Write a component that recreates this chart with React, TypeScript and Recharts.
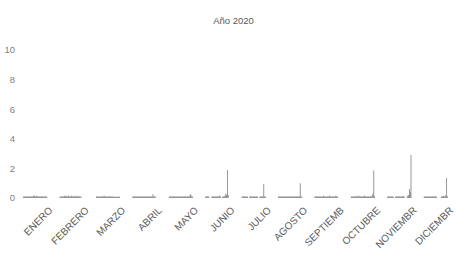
import React from "react";
import { BarChart, Bar, XAxis, YAxis } from "recharts";

const months = ["ENERO", "FEBRERO", "MARZO", "ABRIL", "MAYO", "JUNIO", "JULIO", "AGOSTO", "SEPTIEMB", "OCTUBRE", "NOVIEMBR", "DICIEMBR"];
const yTicks = [0, 2, 4, 6, 8, 10];

const enero = [0.1, 0.1, 0.1, 0.1, 0.1, 0.1, 0.1, 0.1, 0.1, 0.1, 0.1, 0.1, 0.1, 0.15, 0.15, 0.1, 0.1, 0.15, 0.1, 0.1, 0.1, 0.1, 0.1, 0.1, 0.1, 0.1, 0.1, 0.1, 0.1, 0.1, 0.1];
const febrero = [0.1, 0.1, 0.1, 0.1, 0.1, 0.1, 0.15, 0.1, 0.15, 0.1, 0.1, 0.15, 0.1, 0.1, 0.1, 0.15, 0.1, 0.1, 0.15, 0.1, 0.1, 0.1, 0.15, 0.1, 0.1, 0.1, 0.1, 0.1, 0, 0, 0];
const marzo = [0.1, 0.1, 0.1, 0.1, 0.1, 0.1, 0.1, 0.1, 0.1, 0.1, 0.15, 0.1, 0.1, 0.1, 0.1, 0.1, 0.1, 0.1, 0.1, 0.1, 0.1, 0.1, 0.08, 0.08, 0.08, 0.08, 0.08, 0.08, 0.08, 0.08, 0.08];
const abril = [0.1, 0.1, 0.1, 0.1, 0.1, 0.1, 0.1, 0.1, 0.1, 0.1, 0.1, 0.1, 0.1, 0.1, 0.1, 0.1, 0.1, 0.1, 0.1, 0.1, 0.1, 0.1, 0.1, 0.1, 0.1, 0.1, 0.25, 0.1, 0.1, 0.1, 0];
const mayo = [0.1, 0.1, 0.1, 0.1, 0.1, 0.1, 0.1, 0.1, 0.1, 0.1, 0.1, 0.1, 0.1, 0.1, 0.1, 0.1, 0.1, 0.1, 0.1, 0.1, 0.1, 0.1, 0.1, 0.1, 0.1, 0.1, 0.1, 0.25, 0.2, 0.1, 0.1];
const junio = [0.1, 0.1, 0.1, 0.1, 0.1, 0, 0, 0, 0.1, 0.1, 0.1, 0.1, 0.1, 0.1, 0.1, 0.1, 0.1, 0.1, 0.15, 0.1, 0, 0, 0.1, 0.1, 0.1, 0.15, 0.3, 0.2, 1.9, 0.2, 0];
const julio = [0.1, 0.1, 0.1, 0.1, 0.1, 0.1, 0.1, 0.1, 0, 0, 0.1, 0.1, 0.1, 0.1, 0.1, 0.1, 0.1, 0.1, 0.1, 0.1, 0.1, 0, 0, 0.1, 0.1, 0.1, 0.1, 0.1, 0.95, 0.1, 0.1];
const agosto = [0.1, 0.1, 0.1, 0.1, 0.1, 0.1, 0.1, 0.1, 0.1, 0.1, 0.1, 0.1, 0.1, 0.1, 0.1, 0.1, 0.1, 0.1, 0.1, 0.1, 0.1, 0.1, 0.1, 0.1, 0.1, 0.1, 0.1, 0.1, 1.0, 0.1, 0.1];
const septiembre = [0.1, 0.1, 0.1, 0.1, 0.1, 0.1, 0.1, 0.1, 0.1, 0.1, 0.1, 0.15, 0.1, 0.1, 0.1, 0.1, 0.1, 0.1, 0.1, 0.15, 0.1, 0.1, 0.1, 0.1, 0.1, 0.1, 0.1, 0.15, 0.1, 0.1, 0];
const octubre = [0.1, 0.1, 0.1, 0.1, 0.1, 0.1, 0.1, 0.15, 0.1, 0.1, 0.15, 0.1, 0.1, 0.1, 0.1, 0.1, 0.1, 0.15, 0.1, 0.1, 0.1, 0.1, 0.1, 0.1, 0.1, 0.1, 0.1, 0.2, 0.3, 1.85, 0.1];
const noviembre = [0.1, 0.1, 0.1, 0.1, 0.1, 0.1, 0.1, 0.1, 0, 0, 0.1, 0.1, 0.1, 0.1, 0.1, 0.1, 0.1, 0.1, 0.1, 0.1, 0.15, 0.1, 0, 0, 0, 0.1, 0.15, 0.2, 0.6, 0.4, 2.9];
const diciembre = [0.1, 0.1, 0.1, 0.1, 0.1, 0.1, 0.1, 0.1, 0.1, 0.1, 0.1, 0.1, 0.1, 0.1, 0.1, 0.1, 0.1, 0, 0, 0, 0, 0, 0.1, 0.1, 0.1, 0.15, 0.1, 0.1, 0.2, 1.35, 0.1];

const monthValues = [enero, febrero, marzo, abril, mayo, junio, julio, agosto, septiembre, octubre, noviembre, diciembre];
const days = enero.map((_, i) => `d${i + 1}`);

const data = months.map((m, mi) => {
  const row: Record<string, any> = { month: m };
  days.forEach((d, di) => {
    row[d] = monthValues[mi][di];
  });
  return row;
});

const MonthTick = (props: any) => {
  const { x, y, payload } = props;
  const ax = x + 18;
  const ay = y + 13;
  return (
    <text
      x={ax}
      y={ay}
      textAnchor="end"
      fill="#595959"
      fontSize={10}
      fontFamily="'Liberation Sans', Arial, sans-serif"
      transform={`rotate(-45, ${ax}, ${ay})`}
    >
      {payload.value}
    </text>
  );
};

export default function App() {
  return (
    <div style={{ position: "absolute", left: 0, top: 0, width: 467, height: 268, background: "#fff" }}>
      <div
        style={{
          position: "absolute",
          left: 0,
          top: 15,
          width: 467,
          textAlign: "center",
          fontFamily: "'Liberation Sans', Arial, sans-serif",
          fontSize: 9.5,
          color: "#595959",
        }}
      >
        Año 2020
      </div>
      <BarChart
        width={467}
        height={268}
        data={data}
        margin={{ top: 50, right: 13, left: 0, bottom: 0 }}
        barGap={0}
        barCategoryGap="17%"
      >
        <XAxis
          dataKey="month"
          axisLine={false}
          tickLine={false}
          tickSize={0}
          tickMargin={0}
          interval={0}
          height={70}
          tick={<MonthTick />}
        />
        <YAxis
          domain={[0, 10]}
          ticks={yTicks}
          axisLine={false}
          tickLine={false}
          tickSize={0}
          tickMargin={2}
          width={17}
          tick={{ fill: "#7f7f7f", fontSize: 9.5, fontFamily: "'Liberation Sans', Arial, sans-serif" }}
        />
        {days.map((d) => (
          <Bar key={d} dataKey={d} fill="#7a7a7a" isAnimationActive={false} />
        ))}
      </BarChart>
    </div>
  );
}
